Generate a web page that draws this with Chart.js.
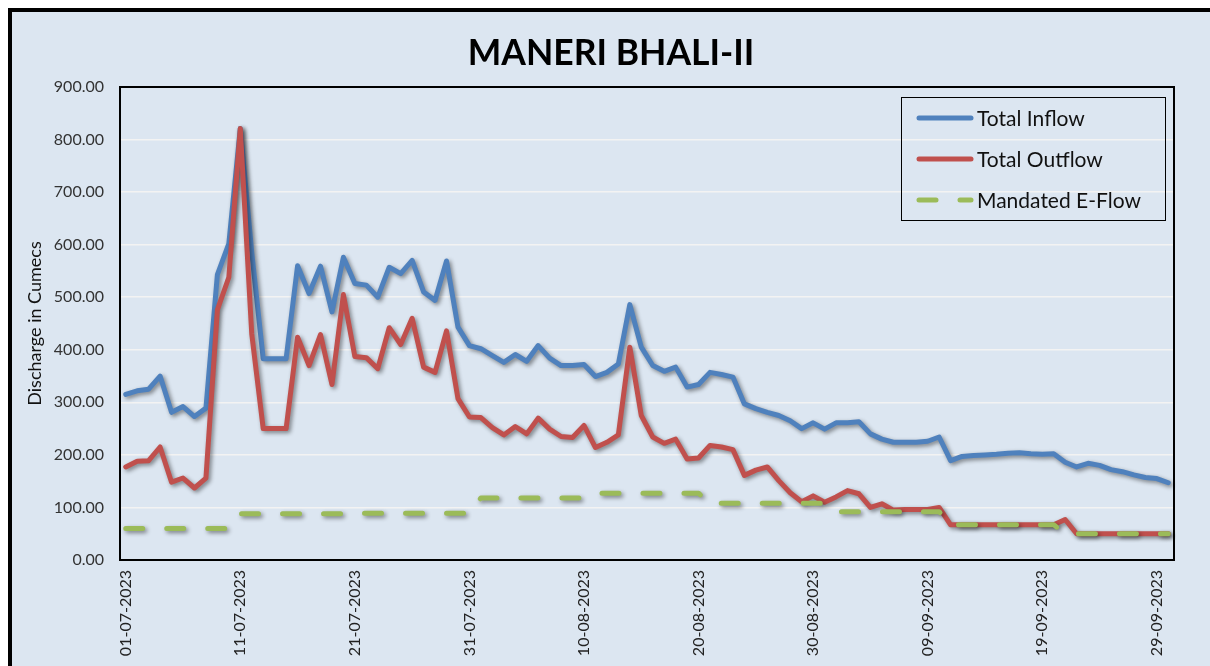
<!DOCTYPE html>
<html>
<head>
<meta charset="utf-8">
<script src="https://cdn.jsdelivr.net/npm/chart.js@4.4.1/dist/chart.umd.min.js"></script>
<style>
  html, body { margin:0; padding:0; background:#ffffff; width:1210px; height:666px; overflow:hidden; }
  #frame { position:absolute; left:8px; top:8px; width:1230px; height:700px; border:4px solid #000; background:#DCE6F1; box-sizing:border-box; }
  #wrap { position:absolute; left:0; top:0; width:1210px; height:666px; }
  #title { position:absolute; left:0; width:1222px; top:28px; text-align:center; font-family:Lato, "Open Sans", sans-serif; font-weight:bold; font-size:35.5px; color:#000; line-height:48px; }
  #legend { position:absolute; left:901px; top:97px; width:265px; height:124px; border:1.5px solid #000; box-sizing:border-box; font-family:Lato, "Open Sans", sans-serif; font-size:21px; color:#111; }
  .item { position:absolute; left:0; height:30px; width:260px; }
  .item svg { position:absolute; left:12px; top:0; }
  .item span { position:absolute; left:75px; top:2px; line-height:26px; white-space:nowrap; }
</style>
</head>
<body>
<div id="frame"></div>
<div id="wrap"><canvas id="c" width="1210" height="666"></canvas></div>
<div id="title">MANERI BHALI-II</div>
<div id="legend"></div>
<script>
const dates = [
 "01-07-2023","02-07-2023","03-07-2023","04-07-2023","05-07-2023","06-07-2023","07-07-2023","08-07-2023","09-07-2023","10-07-2023",
 "11-07-2023","12-07-2023","13-07-2023","14-07-2023","15-07-2023","16-07-2023","17-07-2023","18-07-2023","19-07-2023","20-07-2023",
 "21-07-2023","22-07-2023","23-07-2023","24-07-2023","25-07-2023","26-07-2023","27-07-2023","28-07-2023","29-07-2023","30-07-2023","31-07-2023",
 "01-08-2023","02-08-2023","03-08-2023","04-08-2023","05-08-2023","06-08-2023","07-08-2023","08-08-2023","09-08-2023","10-08-2023",
 "11-08-2023","12-08-2023","13-08-2023","14-08-2023","15-08-2023","16-08-2023","17-08-2023","18-08-2023","19-08-2023","20-08-2023",
 "21-08-2023","22-08-2023","23-08-2023","24-08-2023","25-08-2023","26-08-2023","27-08-2023","28-08-2023","29-08-2023","30-08-2023","31-08-2023",
 "01-09-2023","02-09-2023","03-09-2023","04-09-2023","05-09-2023","06-09-2023","07-09-2023","08-09-2023","09-09-2023","10-09-2023",
 "11-09-2023","12-09-2023","13-09-2023","14-09-2023","15-09-2023","16-09-2023","17-09-2023","18-09-2023","19-09-2023","20-09-2023",
 "21-09-2023","22-09-2023","23-09-2023","24-09-2023","25-09-2023","26-09-2023","27-09-2023","28-09-2023","29-09-2023","30-09-2023"
];

const totalInflow = [
 315,322,325,350,281,292,273,289,543,602,
 821,585,383,383,383,560,507,559,472,576,
 526,523,500,557,545,570,510,494,569,443,408,
 402,389,376,391,378,408,384,370,370,372,
 349,357,373,486,405,370,359,367,329,334,
 357,353,348,297,288,281,275,265,250,261,249,
 261,261,263,240,230,224,224,224,226,234,
 189,197,199,200,201,203,204,202,201,202,
 186,177,184,180,172,168,162,157,155,147
];

const totalOutflow = [
 177,188,189,215,148,156,137,156,476,538,
 821,430,250,250,250,424,370,429,334,505,
 387,385,364,442,410,460,367,357,436,307,272,
 271,252,238,254,240,270,249,235,233,256,
 214,224,238,405,275,234,222,230,192,194,
 218,215,210,161,171,177,151,128,111,122,110,
 120,132,126,100,107,95,96,96,96,100,
 67,67,67,67,67,67,67,67,67,67,
 77,50,50,50,50,50,50,50,50,50
];

const mandatedEFlow = [
 60,60,60,60,60,60,60,60,60,60,
 88,88,88,88,88,88,88,88,88,88,
 89,89,89,89,89,89,89,89,89,89,89,
 118,118,118,118,118,118,118,118,118,118,
 127,127,127,127,127,127,127,127,127,127,
 108,108,108,108,108,108,108,108,108,108,108,
 92,92,92,92,92,92,92,92,92,92,
 67,67,67,67,67,67,67,67,67,67,
 50,50,50,50,50,50,50,50,50,50
];

const yTicks = [0,100,200,300,400,500,600,700,800,900];
const seriesNames = ["Total Inflow","Total Outflow","Mandated E-Flow"];
const seriesColors = ["#4F81BD","#C0504D","#9BBB59"];

const FONT = 'Lato, "Open Sans", sans-serif';

const shadowPlugin = {
  id: 'shadow',
  beforeDatasetsDraw(chart) {
    const ctx = chart.ctx;
    ctx.save();
    ctx.shadowColor = 'rgba(0,0,0,0.45)';
    ctx.shadowBlur = 4;
    ctx.shadowOffsetX = 2;
    ctx.shadowOffsetY = 2;
  },
  afterDatasetsDraw(chart) { chart.ctx.restore(); }
};

const boxPlugin = {
  id: 'box',
  afterDraw(chart) {
    const {ctx, chartArea: a} = chart;
    ctx.save();
    ctx.strokeStyle = '#000';
    ctx.lineWidth = 2;
    ctx.strokeRect(a.left, a.top, a.right - a.left, a.bottom - a.top);
    ctx.restore();
  }
};

new Chart(document.getElementById('c'), {
  type: 'line',
  data: {
    labels: dates,
    datasets: [
      { label: seriesNames[0], data: totalInflow, borderColor: seriesColors[0], borderWidth: 5, pointRadius: 0, tension: 0, borderJoinStyle: 'round', borderCapStyle: 'round', order: 2 },
      { label: seriesNames[1], data: totalOutflow, borderColor: seriesColors[1], borderWidth: 5, pointRadius: 0, tension: 0, borderJoinStyle: 'round', borderCapStyle: 'round', order: 1 },
      { label: seriesNames[2], data: mandatedEFlow, borderColor: seriesColors[2], borderWidth: 5, pointRadius: 0, tension: 0, borderDash: [17, 24], borderCapStyle: 'round', borderJoinStyle: 'round', order: 0 }
    ]
  },
  options: {
    responsive: false,
    animation: false,
    devicePixelRatio: 1,
    layout: { padding: { left: 0, top: 87, right: 36, bottom: 0 } },
    plugins: { legend: { display: false }, title: { display: false }, tooltip: { enabled: false } },
    scales: {
      x: {
        type: 'category',
        offset: true,
        grid: { display: false, drawTicks: false },
        border: { display: false },
        ticks: {
          autoSkip: false, maxRotation: 90, minRotation: 90, padding: 10,
          color: '#222', font: { family: FONT, size: 16 },
          callback: function(v, i) { return i % 10 === 0 ? dates[i] : ''; }
        },
        afterFit(scale) { scale.height = 106; }
      },
      y: {
        min: 0, max: 900,
        afterBuildTicks(scale) { scale.ticks = yTicks.map(v => ({ value: v })); },
        grid: { color: '#F3F3F3', lineWidth: 1.5, drawTicks: false },
        border: { display: false },
        ticks: { padding: 16, color: '#333', font: { family: FONT, size: 16 }, callback: v => Number(v).toFixed(2) },
        title: { display: true, text: 'Discharge in Cumecs', color: '#111', font: { family: FONT, size: 18 }, padding: { top: 24, bottom: 0 } },
        afterFit(scale) { scale.width = 120; }
      }
    }
  },
  plugins: [shadowPlugin, boxPlugin]
});

// legend
const lg = document.getElementById('legend');
const tops = [5, 46, 87];
seriesNames.forEach((n, k) => {
  const d = document.createElement('div');
  d.className = 'item';
  d.style.top = tops[k] + 'px';
  const dash = k === 2 ? 'stroke-dasharray="17 24"' : '';
  d.innerHTML = '<svg width="64" height="30"><line x1="5" y1="15" x2="57" y2="15" stroke="' + seriesColors[k] + '" stroke-width="5" stroke-linecap="round" ' + dash + '/></svg><span>' + n + '</span>';
  lg.appendChild(d);
});
</script>
</body>
</html>
